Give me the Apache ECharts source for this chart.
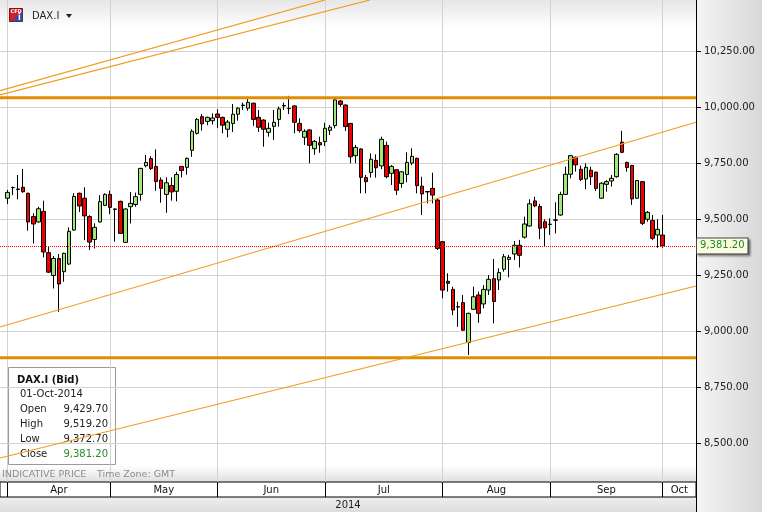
<!DOCTYPE html>
<html>
<head>
<meta charset="utf-8">
<title>DAX.I</title>
<script src="https://cdn.jsdelivr.net/npm/echarts@6/dist/echarts.min.js"></script>
<style>
  html, body { margin: 0; padding: 0; background: #fff; }
  #chart { width: 762px; height: 512px; }
</style>
</head>
<body>
<div id="chart"></div>
<script>
// DAX.I (Bid) daily sessions, 01-Apr-2014 .. 01-Oct-2014
var opens = [9594,9641,9633,9643,9616,9512,9488,9535,9351,9249,9325,9266,9300,9452,9616,9594,9512,9410,9488,9562,
  9611,9546,9580,9397,9556,9566,9611,9739,9771,9736,9675,9611,9651,9625,9736,9732,9808,9884,9958,9937,9940,9970,
  9955,9902,9928,9969,10010,9996,10018,9955,9943,9888,9915,9946,10006,9994,10006,9928,9866,9899,9815,9842,9847,
  9897,9918,10028,10010,9928,9784,9814,9686,9709,9763,9738,9830,9705,9721,9660,9700,9751,9772,9648,9624,9638,9586,
  9400,9223,9187,9110,9128,8950,9098,9162,9122,9184,9235,9229,9277,9321,9345,9384,9420,9470,9582,9557,9489,
  9478,9497,9519,9611,9701,9777,9723,9680,9719,9710,9594,9656,9671,9690,9844,9754,9740,9594,9668,9500,9495,9430,9429.7];
var closes = [9620,9642,9635,9623,9488,9479,9547,9354,9264,9325,9211,9348,9446,9602,9559,9515,9398,9464,9579,9611,
  9553,9544,9437,9546,9571,9601,9727,9754,9727,9669,9638,9663,9622,9700,9718,9772,9893,9946,9926,9955,9952,9955,
  9920,9934,9969,9996,10008,10022,9946,9911,9902,9906,9933,9993,10008,9995,9933,9896,9893,9830,9848,9832,9906,
  9911,10033,10013,9914,9779,9821,9687,9668,9768,9730,9857,9690,9736,9630,9712,9754,9781,9650,9613,9622,9608,9370,
  9184,9214,9095,9108,9005,9080,9154,9080,9187,9232,9133,9262,9333,9330,9384,9339,9479,9569,9560,9460,9462,
  9477,9496,9611,9701,9784,9743,9678,9732,9690,9638,9661,9668,9683,9790,9799,9731,9591,9673,9482,9531,9415,9455,9381.2];
var lows = [9568,9608,9589,9619,9449,9392,9485,9330,9261,9191,9087,9221,9297,9449,9532,9407,9363,9370,9485,9559,
  9523,9400,9434,9394,9481,9556,9583,9732,9720,9627,9574,9529,9583,9580,9687,9699,9779,9878,9896,9920,9923,9908,
  9884,9866,9890,9940,9988,9985,9917,9890,9824,9869,9854,9914,9988,9970,9884,9887,9832,9750,9788,9797,9827,
  9876,9906,10003,9894,9750,9750,9616,9616,9686,9686,9724,9683,9653,9608,9641,9665,9742,9616,9519,9571,9571,9363,
  9147,9177,9072,9020,9002,8894,9095,9038,9102,9162,9035,9184,9266,9241,9318,9285,9414,9467,9554,9411,9377,
  9430,9437,9516,9608,9683,9713,9671,9634,9653,9626,9591,9623,9646,9686,9795,9713,9564,9591,9474,9489,9407,9373,9372.7];
var highs = [9631,9646,9698,9725,9619,9527,9556,9583,9378,9336,9345,9351,9464,9616,9619,9643,9518,9482,9608,9616,
  9628,9548,9583,9549,9622,9619,9730,9787,9782,9812,9687,9687,9687,9712,9737,9776,9902,9952,9970,9958,9973,9991,
  9958,9943,10015,10000,10021,10037,10021,9988,9946,9931,9988,10003,10021,10051,10009,9951,9902,9902,9854,9869,9931,
  9921,10037,10033,10013,9930,9832,9817,9698,9794,9790,9869,9847,9742,9724,9715,9799,9817,9775,9690,9626,9708,9594,
  9403,9259,9199,9132,9162,9083,9199,9177,9206,9251,9323,9281,9345,9341,9403,9408,9512,9589,9601,9569,9500,
  9504,9576,9623,9735,9787,9780,9740,9750,9735,9713,9665,9675,9698,9795,9895,9757,9743,9675,9671,9537,9519,9500,9519.2];

var lastDate = '01-Oct-2014';
var months = ['Apr', 'May', 'Jun', 'Jul', 'Aug', 'Sep', 'Oct'];
var monthStart = [0, 20, 41, 62, 85, 106, 128];   // session index of first day of month
var yTicks = [8500, 8750, 9000, 9250, 9500, 9750, 10000, 10250];

// drawn lines, [session index, price]
var resistance = 10043;
var support = 8882;
var channelUpper = [[-1.5, 9019], [134.5, 9933]];
var channelLower = [[-1.5, 8434], [134.5, 9202]];
var fanA = [[-1.5, 10074], [62, 10479]];
var fanB = [[-1.5, 10055], [70.8, 10479]];

var yMin = 8327, yMax = 10479;
var xMin = -1.5, xMax = 134.5;
var FONT = 'DejaVu Sans';

function fmt(v) {
  var p = v.toFixed(2).split('.');
  p[0] = p[0].replace(/\B(?=(\d{3})+(?!\d))/g, ',');
  return p.join('.');
}

// category slots: one empty slot before, a few after
var cats = [''];
var candles = [['-', '-', '-', '-']];
for (var i = 0; i < opens.length; i++) {
  cats.push(String(i));
  candles.push([opens[i], closes[i], lows[i], highs[i]]);
}
while (cats.length < 136) cats.push('');

var monthMid = monthStart.map(function (s, k) {
  var e = k + 1 < monthStart.length ? monthStart[k + 1] : xMax;
  return (s + e) / 2;
});

var last = opens.length - 1;

function lineSeries(pts, color, width) {
  return {
    type: 'line', xAxisIndex: 1, yAxisIndex: 0,
    data: pts, symbol: 'none', silent: true, z: 3,
    lineStyle: { color: color, width: width }
  };
}

var chart = echarts.init(document.getElementById('chart'));

var grad = echarts.graphic.LinearGradient;
var infoRows = [
  ['Open', opens[last], '#222'],
  ['High', highs[last], '#222'],
  ['Low', lows[last], '#222'],
  ['Close', closes[last], '#2a8a2a']
];
var infoChildren = [
  { type: 'rect', shape: { x: 8.5, y: 367.5, width: 107, height: 97 }, style: { fill: '#fff', stroke: '#9a9a9a', lineWidth: 1 } },
  { type: 'text', x: 17, y: 380, style: { text: 'DAX.I (Bid)', font: 'bold 10px ' + FONT, fill: '#111', verticalAlign: 'middle' } },
  { type: 'text', x: 20, y: 394.5, style: { text: lastDate, font: '10px ' + FONT, fill: '#222', verticalAlign: 'middle' } }
];
infoRows.forEach(function (r, k) {
  infoChildren.push({ type: 'text', x: 20, y: 409.5 + k * 15, style: { text: r[0], font: '10px ' + FONT, fill: '#222', verticalAlign: 'middle' } });
  infoChildren.push({ type: 'text', x: 108, y: 409.5 + k * 15, style: { text: fmt(r[1]), font: '10px ' + FONT, fill: r[2], align: 'right', verticalAlign: 'middle' } });
});

var option = {
  animation: false,
  backgroundColor: '#fff',
  grid: [
    { left: 0, top: 0, width: 696, height: 482, outerBoundsMode: 'none' },
    { left: 0, top: 482, width: 696, height: 15, show: true, backgroundColor: '#fff', borderColor: '#000', borderWidth: 1, outerBoundsMode: 'none' }
  ],
  xAxis: [
    { type: 'category', gridIndex: 0, data: cats, boundaryGap: true, show: false },
    {
      type: 'value', gridIndex: 0, min: xMin, max: xMax,
      axisLine: { show: false, onZero: false },
      axisTick: { show: false, customValues: monthStart },
      axisLabel: { show: false },
      splitLine: { show: true, lineStyle: { color: '#d2d2d2', width: 1 } }
    },
    {
      type: 'value', gridIndex: 1, min: xMin, max: xMax, position: 'bottom',
      axisLine: { show: false, onZero: false },
      axisTick: { show: false, customValues: monthStart },
      axisLabel: {
        customValues: monthMid, margin: -12, color: '#111', fontFamily: FONT, fontSize: 10,
        formatter: function (v) {
          for (var k = 0; k < monthMid.length; k++) if (Math.abs(monthMid[k] - v) < 0.01) return months[k];
          return '';
        }
      },
      splitLine: { show: true, lineStyle: { color: '#000', width: 1 } }
    }
  ],
  yAxis: [
    {
      type: 'value', gridIndex: 0, position: 'right', min: yMin, max: yMax,
      axisLine: { show: true, onZero: false, lineStyle: { color: '#000' } },
      axisTick: { show: true, customValues: yTicks, length: 5, lineStyle: { color: '#000' } },
      axisLabel: { customValues: yTicks, formatter: fmt, color: '#222', fontFamily: FONT, fontSize: 10, margin: 8 },
      splitLine: { show: true, lineStyle: { color: '#d2d2d2', width: 1 } }
    },
    {
      type: 'value', gridIndex: 1, min: 0, max: 1, show: false
    }
  ],
  series: [
    {
      type: 'candlestick', xAxisIndex: 0, yAxisIndex: 0,
      data: candles, barWidth: 4,
      itemStyle: {
        color: '#a0e878', color0: '#f20000',
        borderColor: '#000', borderColor0: '#000', borderColorDoji: '#000', borderWidth: 1
      },
      markLine: {
        silent: true, symbol: ['none', 'none'], animation: false,
        lineStyle: { color: '#ff0000', type: 'dotted', width: 1 },
        label: {
          position: 'end', distance: 1, formatter: fmt(closes[last]),
          color: '#1e8a1e', fontFamily: FONT, fontSize: 10,
          backgroundColor: '#fbfbe3', borderColor: '#444', borderWidth: 1,
          padding: [3, 3, 2, 3],
          shadowColor: 'rgba(0,0,0,0.35)', shadowBlur: 2, shadowOffsetX: 2, shadowOffsetY: 2
        },
        data: [{ yAxis: closes[last] }]
      }
    },
    lineSeries([[xMin, resistance], [xMax, resistance]], '#e08d00', 3),
    lineSeries([[xMin, support], [xMax, support]], '#e08d00', 3),
    lineSeries(channelUpper, '#f19b1e', 1.2),
    lineSeries(channelLower, '#f19b1e', 1.2),
    lineSeries(fanA, '#f19b1e', 1.2),
    lineSeries(fanB, '#f19b1e', 1.2)
  ],
  graphic: [
    { type: 'rect', z: -1, shape: { x: 0, y: 0, width: 696, height: 28 },
      style: { fill: new grad(0, 0, 0, 1, [{ offset: 0, color: '#e6e6e6' }, { offset: 1, color: '#ffffff' }]) } },
    { type: 'rect', z: -1, shape: { x: 0, y: 466, width: 696, height: 16 },
      style: { fill: new grad(0, 0, 0, 1, [{ offset: 0, color: '#ffffff' }, { offset: 1, color: '#dedede' }]) } },
    { type: 'rect', z: -1, shape: { x: 697, y: 0, width: 65, height: 512 },
      style: { fill: new grad(0, 0, 1, 0, [{ offset: 0, color: '#f4f4f4' }, { offset: 1, color: '#d8d8d8' }]) } },
    { type: 'rect', z: -1, shape: { x: 0, y: 497, width: 696, height: 15 },
      style: { fill: new grad(0, 0, 0, 1, [{ offset: 0, color: '#eeeeee' }, { offset: 1, color: '#dddddd' }]) } },
    { type: 'line', z: 5, shape: { x1: 696.5, y1: 482, x2: 696.5, y2: 512 }, style: { stroke: '#000', lineWidth: 1 } },
    { type: 'text', z: 5, x: 348, y: 505, style: { text: '2014', font: '10px ' + FONT, fill: '#222', align: 'center', verticalAlign: 'middle' } },
    { type: 'text', z: 5, x: 2, y: 475, style: { text: 'INDICATIVE PRICE', font: '9.5px ' + FONT, fill: '#8c8c8c', verticalAlign: 'middle' } },
    { type: 'text', z: 5, x: 97, y: 475, style: { text: 'Time Zone: GMT', font: '9.5px ' + FONT, fill: '#8c8c8c', verticalAlign: 'middle' } },
    { type: 'group', z: 10, children: infoChildren },
    { type: 'group', z: 10, children: [
      { type: 'rect', shape: { x: 9.5, y: 8.5, width: 13, height: 13 }, style: { fill: '#cc2228', stroke: '#7d1414', lineWidth: 1 } },
      { type: 'polygon', shape: { points: [[22.5, 11], [22.5, 21.5], [12, 21.5]] }, style: { fill: '#2b4ea6' } },
      { type: 'text', x: 10.5, y: 9.5, style: { text: 'CFD', font: 'bold 5px ' + FONT, fill: '#fff' } },
      { type: 'text', x: 18, y: 13.5, style: { text: 'i', font: 'bold 8px ' + FONT, fill: '#fff' } },
      { type: 'text', x: 32, y: 16, style: { text: 'DAX.I', font: '10px ' + FONT, fill: '#222', verticalAlign: 'middle' } },
      { type: 'polygon', shape: { points: [[66, 14], [72, 14], [69, 18]] }, style: { fill: '#222' } }
    ] }
  ]
};

chart.setOption(option);
</script>
</body>
</html>
